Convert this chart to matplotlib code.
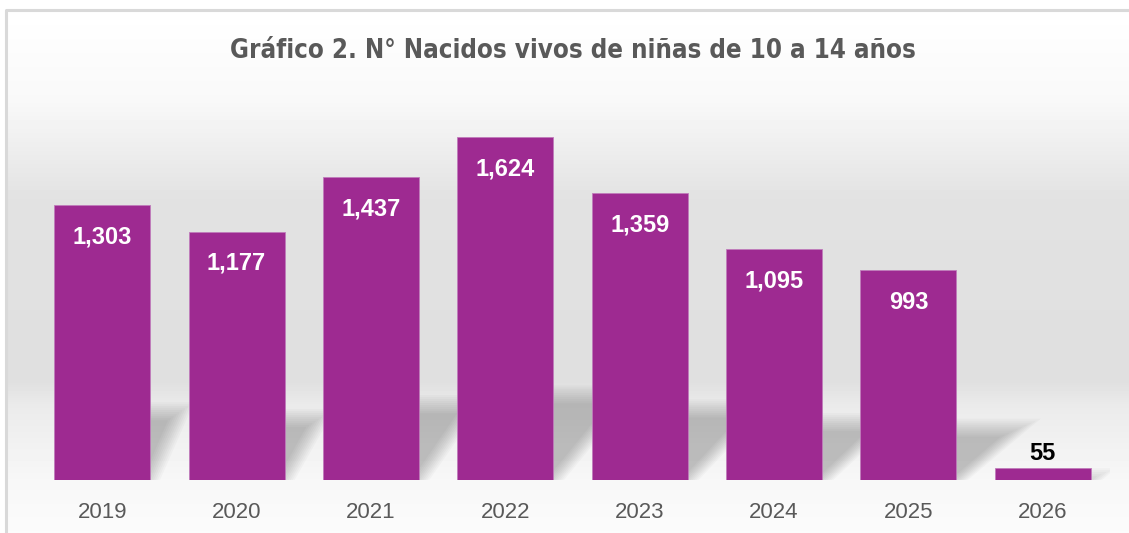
import numpy as np
import matplotlib.pyplot as plt
from matplotlib import font_manager
from matplotlib.patches import Polygon

plt.rcParams['font.family'] = ['Liberation Sans', 'DejaVu Sans']

# data
years = ['2019', '2020', '2021', '2022', '2023', '2024', '2025', '2026']
births = [1303, 1177, 1437, 1624, 1359, 1095, 993, 55]
title = 'Gráfico 2. N° Nacidos vivos de niñas de 10 a 14 años'

bar_color = '#9E2A91'
text_grey = '#595959'

# the title uses a narrow bold face; take whatever narrow family is installed
narrow = None
for f in font_manager.fontManager.ttflist:
    if ('Narrow' in f.name or 'Condensed' in f.name
            or f.stretch in ('condensed', 'semi-condensed')) and f.weight in ('bold', 700):
        narrow = f
        break

W, H = 1129, 533
fig = plt.figure(figsize=(W / 100, H / 100), dpi=100)

# background: soft vertical grey gradient inside a thin frame
bg = fig.add_axes([0, 0, 1, 1], zorder=0)
rows = np.arange(H)
stops_y = [10, 100, 200, 380, 405, 480, 533]
stops_g = [1.0, 0.975, 0.885, 0.875, 0.92, 0.97, 0.985]
grad = np.interp(rows, stops_y, stops_g)
img = np.repeat(grad[:, None], W, axis=1)
img[:10, :] = 1.0
img[:, :6] = 1.0
bg.imshow(img, cmap='gray', vmin=0, vmax=1, aspect='auto',
          extent=(0, W, H, 0), interpolation='bilinear')
bg.plot([6, 6, W], [H, 10, 10], color='#d9d9d9', lw=2.2)
bg.set_xlim(0, W)
bg.set_ylim(H, 0)
bg.axis('off')

# main axes
ax_l, ax_b, ax_w, ax_h = 35, 53, 1075, 380
ax = fig.add_axes([ax_l / W, ax_b / H, ax_w / W, ax_h / H], zorder=1)
ax.patch.set_alpha(0)
ymax = 1800
ax.set_xlim(-0.5, len(years) - 0.5)
ax.set_ylim(0, ymax)

x = np.arange(len(years))
width = 0.714

# perspective shadows behind the bars (layered polygons fake a blur)
px_x = ax_w / len(years)
px_y = ax_h / ymax
n_layers = 10
blur = 9.0
for i, v in enumerate(births):
    rise = 0.25 * v * px_y
    ratio = 0.45 + 0.13 * i
    shift = ratio * rise
    for k in range(n_layers):
        e = blur * (1 - 2 * k / (n_layers - 1))
        x0 = x[i] - width / 2
        x1 = x[i] + width / 2 + e / px_x
        top = (rise + e) / px_y
        sx = (shift + e * ratio) / px_x
        poly = Polygon([(x0, -10), (x1, -10), (x1 + sx, top), (x0 + sx, top)],
                       closed=True, facecolor='black', edgecolor='none',
                       alpha=0.022, zorder=1)
        ax.add_patch(poly)

ax.bar(x, births, width=width, color=bar_color, edgecolor='#c07cbb',
       linewidth=0.6, zorder=2)

for i, v in enumerate(births):
    if v > 200:
        ax.annotate(f'{v:,}', (x[i], v), xytext=(0, -23),
                    textcoords='offset points', ha='center', va='center',
                    color='white', fontsize=17, fontweight='bold', zorder=3)
    else:
        ax.annotate(f'{v:,}', (x[i], v), xytext=(0, 11),
                    textcoords='offset points', ha='center', va='center',
                    color='black', fontsize=17, fontweight='bold', zorder=3)

ax.set_xticks(x, years)
ax.tick_params(axis='x', length=0, pad=16, labelsize=16, labelcolor=text_grey)
ax.set_yticks([])
for s in ax.spines.values():
    s.set_visible(False)

if narrow is not None:
    tprops = font_manager.FontProperties(fname=narrow.fname, size=18.5)
else:
    tprops = font_manager.FontProperties(family='Liberation Sans', weight='bold',
                                         size=20)
fig.text(573 / W, 1 - 51 / H, title, ha='center', va='center',
         fontproperties=tprops, color=text_grey)

fig.savefig('out.png', dpi=100)
